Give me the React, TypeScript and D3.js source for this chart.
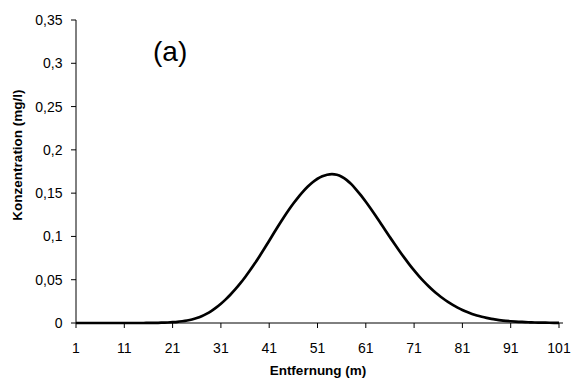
import React from "react";
import * as d3 from "d3";

// Entfernung (m): 1..101
const distances = d3.range(1, 102);
// Konzentration (mg/l)
const concentrations = [
    0, 0, 0, 0, 0, 0, 0, 0, 0, 0,
    0, 0, 0, 0, 0, 0.0001, 0.0001, 0.0002, 0.0004, 0.0006,
    0.0009, 0.0013, 0.002, 0.0029, 0.0041, 0.0057, 0.0078, 0.0105, 0.0138, 0.0177,
    0.0222, 0.0273, 0.0329, 0.039, 0.0457, 0.0529, 0.0606, 0.0687, 0.0772, 0.086,
    0.095, 0.1042, 0.1132, 0.1219, 0.1302, 0.138, 0.1452, 0.1517, 0.1576, 0.1626,
    0.1666, 0.1695, 0.1713, 0.172, 0.1712, 0.169, 0.1654, 0.1604, 0.1542, 0.1474,
    0.140, 0.1322, 0.1241, 0.1158, 0.1074, 0.0991, 0.0909, 0.0829, 0.0752, 0.0678,
    0.0608, 0.0542, 0.0481, 0.0425, 0.0373, 0.0326, 0.0283, 0.0244, 0.0209, 0.0178,
    0.015, 0.0126, 0.0105, 0.0087, 0.0072, 0.0059, 0.0048, 0.0039, 0.0031, 0.0025,
    0.002, 0.0016, 0.0013, 0.001, 0.0008, 0.0006, 0.0005, 0.0004, 0.0003, 0.0002,
    0.0001
];
const xTicks = [1, 11, 21, 31, 41, 51, 61, 71, 81, 91, 101];
const yTicks = [0, 0.05, 0.1, 0.15, 0.2, 0.25, 0.3, 0.35];

const font = "Arial, 'Liberation Sans', sans-serif";
const fmt = (v: number) => String(Math.round(v * 100) / 100).replace(".", ",");

const App = () => {
    const width = 574;
    const height = 378;
    const left = 76, right = 559, top = 20, bottom = 323;

    const x = d3.scaleLinear().domain([1, 101]).range([left, right]);
    const y = d3.scaleLinear().domain([0, 0.35]).range([bottom, top]);

    const line = d3.line<number>()
        .x((d, i) => x(distances[i]))
        .y(d => y(d))
        .curve(d3.curveMonotoneX);

    return (
        <svg width={width} height={height}
             style={{position: "absolute", left: 0, top: 0, background: "#fff"}}>
            {/* y axis */}
            <line x1={left} x2={left} y1={top} y2={bottom} stroke="#000" strokeWidth={1}/>
            {yTicks.map(t => (
                <g key={t}>
                    <line x1={left - 5} x2={left} y1={y(t)} y2={y(t)} stroke="#000"/>
                    <text x={62.5} y={y(t)} dy="0.36em" textAnchor="end"
                          fontFamily={font} fontSize={14}>{fmt(t)}</text>
                </g>
            ))}
            {/* x axis */}
            <line x1={left} x2={right + 4} y1={bottom} y2={bottom} stroke="#000" strokeWidth={1}/>
            {xTicks.map(t => (
                <g key={t}>
                    <line x1={x(t)} x2={x(t)} y1={bottom} y2={bottom + 5} stroke="#000"/>
                    <text x={x(t)} y={352.5} textAnchor="middle"
                          fontFamily={font} fontSize={14}>{t}</text>
                </g>
            ))}
            <path d={line(concentrations) || ""} fill="none" stroke="#000" strokeWidth={2.7}
                  strokeLinejoin="round"/>
            <text x={318} y={375} textAnchor="middle" fontFamily={font}
                  fontSize={13.5} fontWeight="bold">Entfernung (m)</text>
            <text transform="translate(21.5,155) rotate(-90)" textAnchor="middle"
                  fontFamily={font} fontSize={13.5} fontWeight="bold">Konzentration (mg/l)</text>
            <text x={153} y={61} fontFamily={font} fontSize={28}>(a)</text>
        </svg>
    );
};

export default App;
